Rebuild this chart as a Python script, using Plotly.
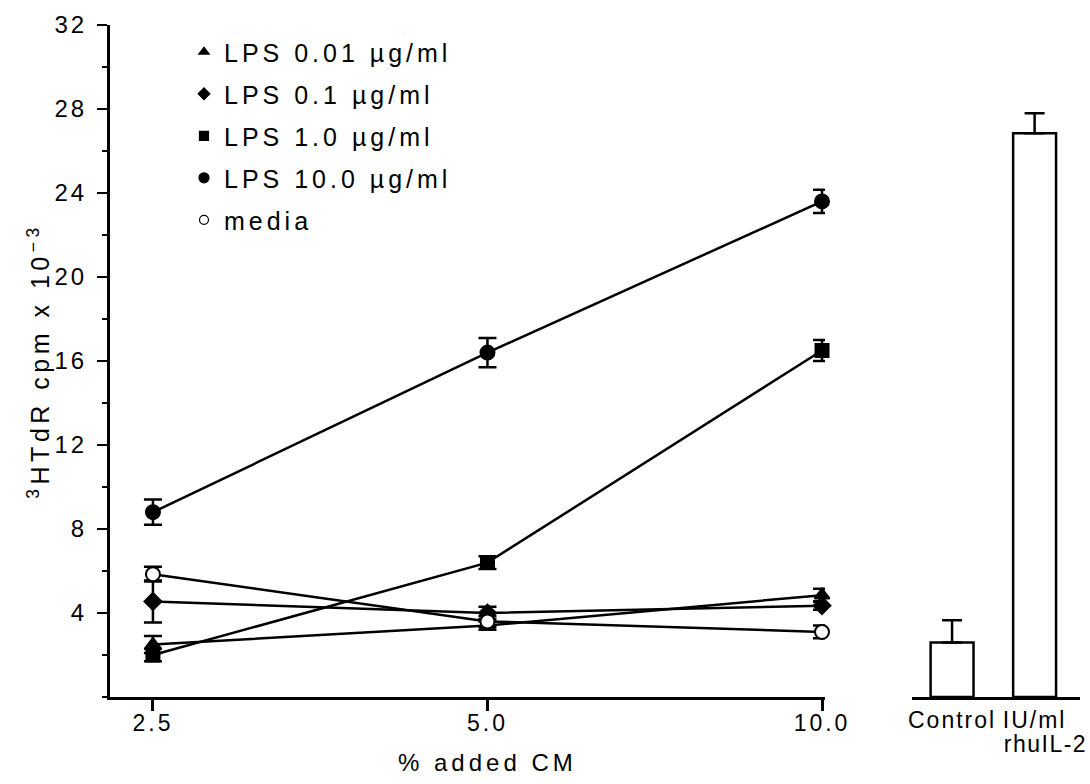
import plotly.graph_objects as go

# ---- data ----
cm_pct = [2.5, 5.0, 10.0]

lps_001 = [2.5, 3.4, 4.85]
lps_001_err = [0.4, 0.2, 0.3]

lps_01 = [4.55, 4.0, 4.35]
lps_01_err = [1.0, 0.3, 0.2]

lps_1 = [2.0, 6.4, 16.5]
lps_1_err = [0.3, 0.3, 0.5]

lps_10 = [8.8, 16.4, 23.6]
lps_10_err = [0.6, 0.7, 0.55]

media = [5.85, 3.6, 3.1]
media_err = [0.35, 0.25, 0.3]

bar_pos = [0, 1]
bar_labels = ["Control", "IU/ml"]
bar_sublabel = "rhuIL-2"
bar_values = [2.6, 26.85]
bar_err = [1.05, 0.95]

y_ticks = [4, 8, 12, 16, 20, 24, 28, 32]
x_ticks = [2.5, 5.0, 10.0]
x_ticktext = ["2.5", "5.0", "10.0"]
x_title = "% added CM"
y_title = "<sup>3</sup>HTdR cpm x 10<sup>−3</sup>"

FONT = "Liberation Sans, Arial, sans-serif"

series = [
    ("LPS 0.01 µg/ml", lps_001, lps_001_err, "triangle-up", 13, "black"),
    ("LPS 0.1 µg/ml", lps_01, lps_01_err, "diamond", 13, "black"),
    ("LPS 1.0 µg/ml", lps_1, lps_1_err, "square", 13, "black"),
    ("LPS 10.0 µg/ml", lps_10, lps_10_err, "circle", 14, "black"),
    ("media", media, media_err, "circle", 14, "white"),
]
legend_sizes = [9, 9, 9, 10, 9]

fig = go.Figure()

for (name, vals, errs, sym, size, fill) in series:
    fig.add_trace(go.Scatter(
        x=cm_pct, y=vals, mode="lines+markers", name=name,
        line=dict(color="black", width=2.5),
        marker=dict(symbol=sym, size=size, color=fill,
                    line=dict(color="black", width=2)),
        error_y=dict(type="data", array=errs, visible=True,
                     color="black", thickness=2.5, width=9),
        cliponaxis=False,
        showlegend=False, xaxis="x", yaxis="y",
    ))

for i, (name, vals, errs, sym, size, fill) in enumerate(series):
    fig.add_trace(go.Scatter(
        x=[None], y=[None], mode="markers", name=name,
        marker=dict(symbol=sym, size=legend_sizes[i], color=fill,
                    line=dict(color="black", width=1.2)),
        legendgroup=name, showlegend=True, xaxis="x", yaxis="y",
    ))

fig.add_trace(go.Bar(
    x=bar_pos, y=bar_values, width=0.52,
    marker=dict(color="white", line=dict(color="black", width=2.5)),
    error_y=dict(type="data", array=bar_err, arrayminus=[0, 0],
                 symmetric=False, visible=True, color="black",
                 thickness=2.5, width=10),
    showlegend=False, xaxis="x2", yaxis="y2",
))

fig.add_annotation(
    x=bar_pos[1], xref="x2", y=0, yref="paper",
    text=bar_sublabel, showarrow=False,
    xanchor="center", yanchor="top", xshift=11, yshift=-32,
    font=dict(size=23),
)

fig.add_annotation(
    x=0.3857, xref="paper", y=0, yref="paper",
    text=x_title, showarrow=False,
    xanchor="center", yanchor="middle", yshift=-65,
    font=dict(size=24),
)

fig.update_layout(
    width=1090, height=784,
    margin=dict(l=110, r=0, t=25, b=87, autoexpand=False),
    paper_bgcolor="white", plot_bgcolor="white",
    font=dict(family=FONT, size=24, color="black"),
    showlegend=True,
    legend=dict(x=0.0755, y=0.994, xanchor="left", yanchor="top",
                bgcolor="rgba(0,0,0,0)", font=dict(size=25),
                tracegroupgap=6.5, itemwidth=30),
    xaxis=dict(
        type="log", domain=[0, 0.7296], range=[0.3593, 1.0027],
        tickvals=x_ticks, ticktext=x_ticktext, automargin=False,
        ticks="outside", ticklen=11, tickwidth=2.5, tickcolor="black",
        showline=True, linecolor="black", linewidth=3,
        showgrid=False, zeroline=False,
        tickfont=dict(size=23), ticklabelstandoff=-8,
        anchor="y",
    ),
    yaxis=dict(
        domain=[0, 1], range=[0, 32], automargin=False,
        tickvals=y_ticks,
        ticks="outside", ticklen=10, tickwidth=2, tickcolor="black",
        minor=dict(dtick=2, tick0=0, ticks="outside", ticklen=5,
                   tickwidth=1.5, tickcolor="black"),
        showline=True, linecolor="black", linewidth=3,
        showgrid=False, zeroline=False,
        tickfont=dict(size=24), ticklabelstandoff=5,
        title=dict(text=y_title, standoff=4, font=dict(size=25)),
        anchor="x",
    ),
    xaxis2=dict(
        domain=[0.8184, 0.9898], range=[-0.485, 1.55], automargin=False,
        tickvals=bar_pos, ticktext=bar_labels,
        ticks="", showline=True, linecolor="black", linewidth=3,
        showgrid=False, zeroline=False, anchor="y2",
        tickfont=dict(size=23),
    ),
    yaxis2=dict(
        domain=[0, 1], range=[0, 32], visible=False, automargin=False,
        anchor="x2", showgrid=False, zeroline=False,
    ),
)

post_js = """
document.documentElement.style.margin = '0';
document.documentElement.style.overflow = 'hidden';
document.body.style.margin = '0';
document.body.style.overflow = 'hidden';
var gd = document.getElementById('{plot_id}');
function spaceText() {
  gd.querySelectorAll('.xtick text, .ytick text').forEach(function(t){ t.style.letterSpacing = '3px'; });
  gd.querySelectorAll('.x2tick text').forEach(function(t){ t.style.letterSpacing = '2px'; });
  gd.querySelectorAll('.annotation-text').forEach(function(t){
    t.style.letterSpacing = (t.textContent.indexOf('CM') >= 0) ? '4px' : '1.5px';
  });
  gd.querySelectorAll('.legendtext').forEach(function(t){ t.style.letterSpacing = '4px'; });
  gd.querySelectorAll('.g-ytitle text').forEach(function(t){ t.style.letterSpacing = '4.5px'; });
  gd.querySelectorAll('.legend, .legend *').forEach(function(e){ e.removeAttribute('clip-path'); });
}
spaceText();
gd.on('plotly_afterplot', spaceText);
"""

fig.write_html("out.html", post_script=post_js,
               config={"displayModeBar": False})
